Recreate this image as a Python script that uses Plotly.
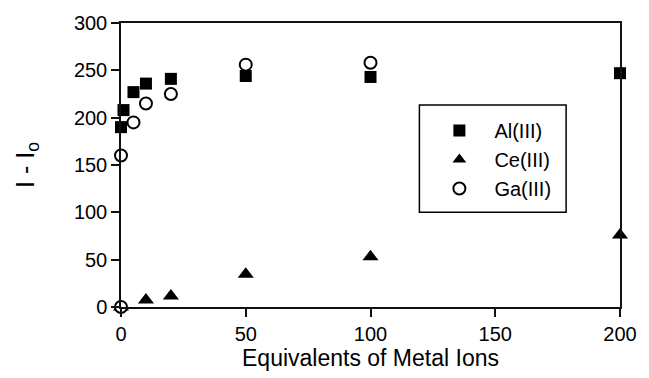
import plotly.graph_objects as go

# Data
al_x = [0, 1, 5, 10, 20, 50, 100, 200]
al_y = [190, 208, 227, 236, 241, 244, 243, 247]

ce_x = [0, 10, 20, 50, 100, 200]
ce_y = [0, 7.5, 11.5, 34.5, 53, 76]

ga_x = [0, 0, 5, 10, 20, 50, 100]
ga_y = [0, 160, 195, 215, 225, 256, 258]

x_ticks = [0, 50, 100, 150, 200]
y_ticks = [0, 50, 100, 150, 200, 250, 300]

FONT = "Liberation Sans, Arial, sans-serif"

fig = go.Figure()
fig.add_trace(go.Scatter(x=al_x, y=al_y, mode="markers", name="Al(III)",
                         marker=dict(symbol="square", size=12, color="black"),
                         cliponaxis=False))
fig.add_trace(go.Scatter(x=ce_x, y=ce_y, mode="markers", name="Ce(III)",
                         marker=dict(symbol="triangle-up", size=14, color="black"),
                         cliponaxis=False))
fig.add_trace(go.Scatter(x=ga_x, y=ga_y, mode="markers", name="Ga(III)",
                         marker=dict(symbol="circle", size=12, color="white",
                                     line=dict(color="black", width=2)),
                         cliponaxis=False))

axis_common = dict(showgrid=False, zeroline=False, showline=True, linecolor="#111",
                   linewidth=1.5, mirror=True, ticks="outside", ticklen=8,
                   tickwidth=1.5, tickcolor="#111",
                   tickfont=dict(family=FONT, size=20, color="black"))

fig.update_xaxes(range=[0, 200], tickvals=x_ticks,
                 title=dict(text="Equivalents of Metal Ions",
                            font=dict(family=FONT, size=23, color="black"),
                            standoff=5),
                 **axis_common)
fig.update_yaxes(range=[0, 300], tickvals=y_ticks,
                 title=dict(text="I - I<sub>o</sub>",
                            font=dict(family=FONT, size=25, color="black"),
                            standoff=32),
                 **axis_common)

# legend frame
fig.add_shape(type="rect", xref="paper", yref="paper",
              x0=0.598, x1=0.892, y0=0.334, y1=0.711,
              line=dict(color="black", width=1.5), fillcolor="white", layer="above")

fig.update_layout(
    width=649, height=378,
    margin=dict(l=121, r=18, t=21, b=70),
    plot_bgcolor="white", paper_bgcolor="white",
    legend=dict(x=0.608, y=0.69, xanchor="left", yanchor="top",
                borderwidth=0, bgcolor="rgba(0,0,0,0)",
                font=dict(family=FONT, size=20, color="black"),
                itemwidth=60, itemsizing="constant"),
)

fig.write_html("out.html")
